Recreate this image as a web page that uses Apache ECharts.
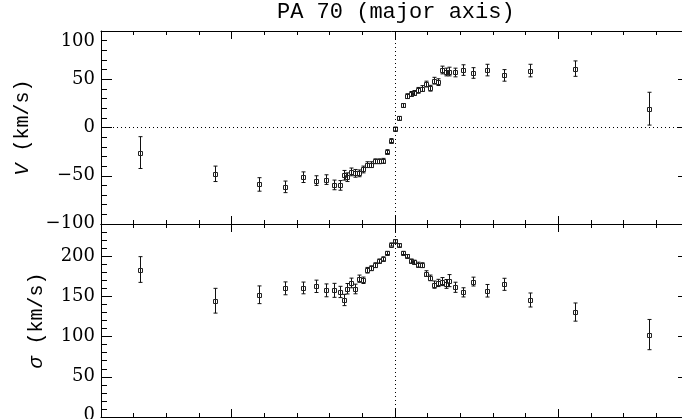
<!DOCTYPE html>
<html><head><meta charset="utf-8">
<script src="https://cdn.jsdelivr.net/npm/echarts@6/dist/echarts.min.js"></script>
<style>html,body{margin:0;padding:0;background:#fff}#c{width:682px;height:419px}</style>
</head><body><div id="c"></div><script>
// ---------- data ----------
const titleText = 'PA 70 (major axis)';
const radius = [-15.60,-11.05,-8.30,-6.73,-5.65,-4.81,-4.20,-3.73,-3.38,-3.14,-2.92,-2.67,-2.43,-2.18,-1.94,-1.69,-1.45,-1.22,-0.98,-0.73,-0.49,-0.24,0.00,0.22,0.47,0.71,0.96,1.18,1.43,1.65,1.90,2.14,2.39,2.63,2.87,3.10,3.32,3.69,4.18,4.79,5.63,6.69,8.28,11.01,15.58];
const velocity = [-26,-48,-59,-61.5,-51.5,-55,-54,-59.5,-60,-49.5,-51.5,-46,-47.5,-47.5,-43.5,-38.5,-38.5,-35,-35,-34.5,-25,-13.5,-1.5,9.5,22.8,32.5,34.8,35.8,38.5,40.4,45,40.7,48.5,47,59.6,57.5,58,57,59.5,56.5,59.5,54,59,61,19.5];
const velocityErr = [16.5,8,7,6,5.5,5,5,5,5,5,4.5,4,4,3.5,3.5,3,3,2.5,2.5,2.5,2,2,2,2,2,2.5,2.5,2.5,3,3,3,3,3.5,3.5,4,4,4.5,4.5,5.5,5.5,6,6,6.5,8,17];
const sigma = [183.4,144.6,152,160,160.5,162.5,157.5,157.5,155.5,145.5,159.5,166.7,159.2,172,170,182.5,185,188.8,194,196.7,204,214.5,218.5,213.5,204,200,194,192.5,189.5,188.8,178.4,173,164.6,166.7,168.4,165.5,169.6,161.3,155,168.4,157,165,145.5,130.5,102.5];
const sigmaErr = [16,15.4,11,8,7.3,7.7,8,8.7,7,7,6.5,6,6,4.5,4,3.5,3,3,2.5,2.5,2,2,2,2,2,2,2.5,2.5,3,3,3.5,3.5,4.5,4.5,5,5.5,7.5,6.3,5.7,5.5,7.8,7.5,8.7,11.3,18.8];
const xRange = [-18, 18];
const xMajorTicks = [-10, 0, 10];
const xMinorStep = 2;
const vRange = [-100, 100];
const sigmaRange = [0, 240];
const yMajorStep = 50;
const yMinorStep = 10;
const sigmaLabelMax = 200;

// ---------- chart ----------
const BLACK = '#000';
const NUM_FONT = 'DejaVu Serif';
const NAME_FONT = 'Liberation Mono';
const topData = radius.map((r, i) => [r, velocity[i], velocityErr[i]]);
const botData = radius.map((r, i) => [r, sigma[i], sigmaErr[i]]);

function fmtNum(v) { return v < 0 ? '\u2212' + Math.abs(v) : String(v); }

function xAxesFor(grid) {
  const base = { type: 'value', gridIndex: grid, min: xRange[0], max: xRange[1],
    axisLabel: { show: false }, splitLine: { show: false }, minorTick: { show: false } };
  const line = { show: true, onZero: false, lineStyle: { color: BLACK, width: 1 } };
  const out = [];
  ['bottom', 'top'].forEach(pos => {
    out.push(Object.assign({}, base, { position: pos, interval: xMinorStep, axisLine: line,
      axisTick: { show: true, inside: true, length: 4, lineStyle: { color: BLACK, width: 1 } } }));
  });
  ['bottom', 'top'].forEach(pos => {
    out.push(Object.assign({}, base, { position: pos, interval: xMinorStep, axisLine: { show: false, onZero: false },
      axisTick: { show: true, inside: true, length: 8, customValues: xMajorTicks, lineStyle: { color: BLACK, width: 1 } } }));
  });
  return out;
}

function yAxesFor(grid, range, name, nameGap, isTop) {
  const base = { type: 'value', gridIndex: grid, min: range[0], max: range[1], splitLine: { show: false } };
  const line = { show: true, onZero: false, lineStyle: { color: BLACK, width: 1 } };
  const lab = { fontFamily: NUM_FONT, fontSize: 18, color: BLACK };
  const out = [];
  out.push(Object.assign({}, base, {
    position: 'left', interval: yMajorStep, axisLine: line,
    axisTick: { show: true, inside: true, length: 11, lineStyle: { color: BLACK, width: 1 } },
    axisLabel: { show: true, margin: 6, color: BLACK, fontFamily: NUM_FONT, fontSize: 18,
      verticalAlignMaxLabel: isTop ? 'top' : null, verticalAlignMinLabel: 'bottom',
      rich: {
        hi: Object.assign({ lineHeight: 21 }, lab),
        lo: Object.assign({ lineHeight: isTop ? 2 : 4 }, lab)
      },
      formatter: v => {
        if (!isTop && v > sigmaLabelMax) return '';
        if (v === range[0]) return '{lo|' + fmtNum(v) + '}';
        if (isTop && v === range[1]) return '{hi|' + fmtNum(v) + '}';
        return fmtNum(v);
      } },
    name: name, nameLocation: 'middle', nameGap: nameGap,
    nameTextStyle: { color: BLACK, fontFamily: NAME_FONT, fontSize: 20,
      rich: { i: { fontFamily: NAME_FONT, fontSize: 20, fontStyle: 'italic', color: BLACK } } }
  }));
  out.push(Object.assign({}, base, { position: 'right', interval: yMajorStep, axisLine: line,
    axisTick: { show: true, inside: true, length: 11, lineStyle: { color: BLACK, width: 1 } },
    axisLabel: { show: false } }));
  ['left', 'right'].forEach(pos => {
    out.push(Object.assign({}, base, { position: pos, interval: yMinorStep, axisLine: { show: false, onZero: false },
      axisTick: { show: true, inside: true, length: 6, lineStyle: { color: BLACK, width: 1 } },
      axisLabel: { show: false } }));
  });
  return out;
}

function renderErr(params, api) {
  const x = api.value(0), y = api.value(1), e = api.value(2);
  const c = api.coord([x, y]);
  const hi = api.coord([x, y + e]);
  const lo = api.coord([x, y - e]);
  const cx = Math.round(c[0]) + 0.5;
  const cy = Math.round(c[1]) + 0.5;
  const st = { stroke: '#111', lineWidth: 1, fill: null };
  return { type: 'group', children: [
    { type: 'line', shape: { x1: cx, y1: hi[1], x2: cx, y2: lo[1] }, style: st },
    { type: 'line', shape: { x1: cx - 2, y1: hi[1], x2: cx + 2, y2: hi[1] }, style: st },
    { type: 'line', shape: { x1: cx - 2, y1: lo[1], x2: cx + 2, y2: lo[1] }, style: st },
    { type: 'rect', shape: { x: cx - 2, y: cy - 2, width: 4, height: 4 }, style: { stroke: '#222', lineWidth: 1, fill: 'rgba(0,0,0,0)' } }
  ] };
}

const dotted = { color: BLACK, width: 1, type: [1, 3] };

const option = {
  backgroundColor: '#fff',
  animation: false,
  title: { text: titleText, left: 277, top: 1, padding: 0,
    textStyle: { color: BLACK, fontFamily: NAME_FONT, fontSize: 22, fontWeight: 'normal' } },
  grid: [
    { left: 101, width: 588, top: 31, height: 193, outerBoundsMode: 'none', containLabel: false },
    { left: 101, width: 588, top: 224, height: 193, outerBoundsMode: 'none', containLabel: false }
  ],
  xAxis: xAxesFor(0).concat(xAxesFor(1)),
  yAxis: yAxesFor(0, vRange, '{i|V} (km/s)', 68, true).concat(yAxesFor(1, sigmaRange, '{i|\u03c3} (km/s)', 54, false)),
  series: [
    { type: 'custom', xAxisIndex: 0, yAxisIndex: 0, data: topData, renderItem: renderErr, silent: true,
      encode: { x: 0, y: 1 },
      markLine: { silent: true, symbol: 'none', label: { show: false }, lineStyle: dotted, animation: false,
        data: [{ xAxis: 0 }, { yAxis: 0 }] } },
    { type: 'custom', xAxisIndex: 4, yAxisIndex: 4, data: botData, renderItem: renderErr, silent: true,
      encode: { x: 0, y: 1 },
      markLine: { silent: true, symbol: 'none', label: { show: false }, lineStyle: dotted, animation: false,
        data: [{ xAxis: 0 }] } }
  ]
};
const chart = echarts.init(document.getElementById('c'), null, { renderer: 'canvas' });
chart.setOption(option);
</script></body></html>
